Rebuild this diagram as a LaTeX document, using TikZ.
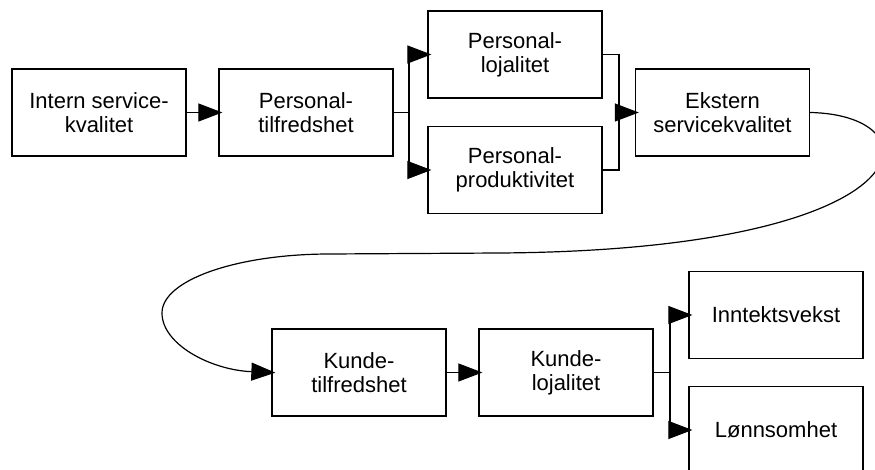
\documentclass[tikz,border=0pt]{standalone}
\usepackage{fontspec}
\setmainfont{Liberation Sans}
\usetikzlibrary{arrows.meta}
\begin{document}
\begin{tikzpicture}[x=0.5pt, y=-0.5pt,
		box/.style={draw, line width=0.65pt, minimum width=87pt, minimum height=43.5pt,
			inner sep=0pt, align=center, font=\fontsize{11}{12}\selectfont},
		link/.style={line width=0.6pt},
		arr/.style={link, shorten >=-2pt, -{Triangle[length=12pt, width=9pt]}}]
	\useasboundingbox (0, 0) rectangle (875, 470);

	%%upper row
	\node[box] (intern) at (99, 112.5) {Intern service-\\kvalitet};
	\node[box] (ptilfreds) at (306, 112.5) {Personal-\\tilfredshet};
	\node[box] (plojal) at (515, 54.5) {Personal-\\lojalitet};
	\node[box] (pprod) at (515, 170) {Personal-\\produktivitet};
	\node[box] (ekstern) at (722.5, 112.5) {Ekstern\\servicekvalitet};

	%%lower row
	\node[box] (ktilfreds) at (359, 372.5) {Kunde-\\tilfredshet};
	\node[box] (klojal) at (566, 372.5) {Kunde-\\lojalitet};
	\node[box] (vekst) at (776, 315) {Inntektsvekst};
	\node[box] (lonn) at (776, 430) {Lønnsomhet};

	%%forks and joins
	\coordinate (fork1) at (409, 112.5);
	\coordinate (join1) at (619, 112.5);
	\coordinate (fork2) at (670, 372.5);

	\draw[arr] (intern) -- (ptilfreds);
	\draw[link] (ptilfreds) -- (fork1);
		\draw[arr] (fork1) |- (plojal);
		\draw[arr] (fork1) |- (pprod);
	\draw[link] (plojal) -| (join1);
	\draw[link] (pprod) -| (join1);
	\draw[arr] (join1) -- (ekstern);

	%%the long bend down to the second row
	\coordinate (bend1) at (500, 253);
	\coordinate (bend2) at (330, 254);
	\coordinate (bend3) at (162, 313);
	\draw[arr] (ekstern.east) .. controls (940, 115) and (930, 250) .. (bend1)
		-- (bend2) .. controls (237, 254) and (162, 280) .. (bend3)
		.. controls (162, 344.5) and (211, 370) .. (ktilfreds.west);

	\draw[arr] (ktilfreds) -- (klojal);
	\draw[link] (klojal) -- (fork2);
		\draw[arr] (fork2) |- (vekst);
		\draw[arr] (fork2) |- (lonn);
\end{tikzpicture}
\end{document}
